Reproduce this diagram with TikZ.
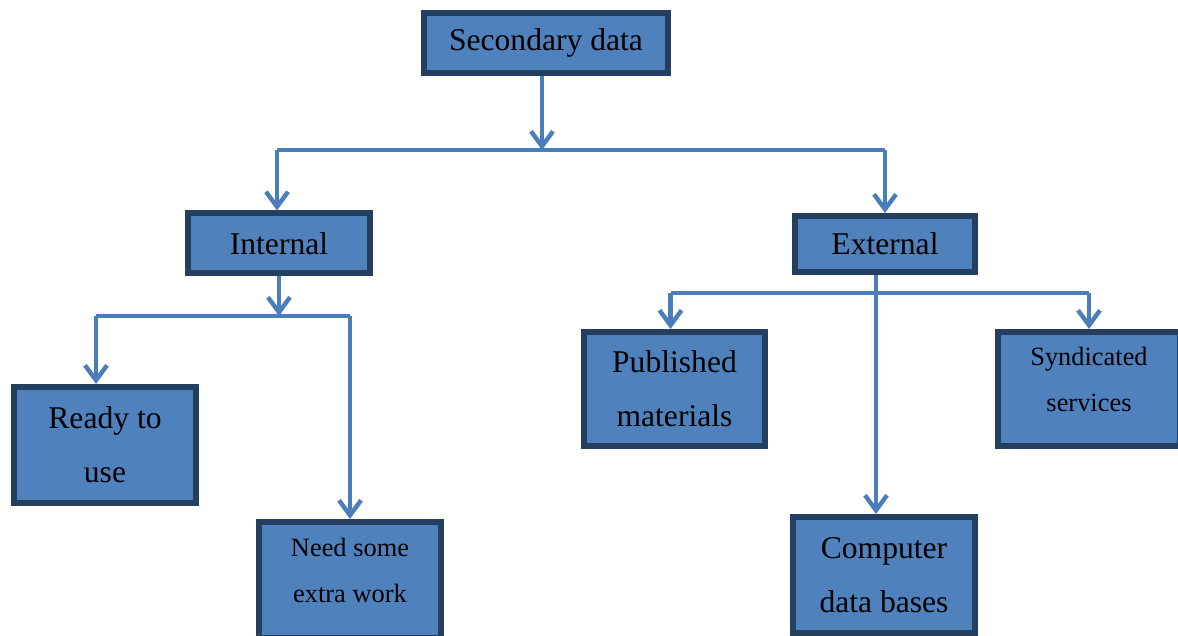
\documentclass[tikz,border=0pt]{standalone}
\usepackage{fontspec}
\setmainfont{Liberation Serif}
\usetikzlibrary{arrows.meta}

\definecolor{boxfill}{HTML}{4F81BD}
\definecolor{boxline}{HTML}{243F60}
\definecolor{linkblue}{HTML}{4A7EBB}

\begin{document}
\begin{tikzpicture}[x=0.5pt, y=-0.5pt,
	box/.style={draw=boxline, fill=boxfill, line width=3pt, align=center, inner sep=0pt,
		font=\fontsize{15.8}{27}\selectfont},
	smallbox/.style={box, text depth=10pt, font=\fontsize{13.2}{23}\selectfont},
	link/.style={draw=linkblue, line width=2.2pt},
	>={Straight Barb[length=7.5pt, width=11pt]}]
			\useasboundingbox (0,0) rectangle (1178,636);
			
			\node[box, minimum width=122pt, minimum height=30pt] (sec) at (546,43) {Secondary data};
			\node[box, minimum width=91pt, minimum height=30pt] (int) at (279,243.5) {Internal};
			\node[box, minimum width=90pt, minimum height=28pt] (ext) at (885,244) {External};
			
			\node[box, minimum width=91pt, minimum height=58pt] (ready) at (105,445) {Ready to\\use};
			\node[smallbox, minimum width=91pt, minimum height=58pt] (need) at (350,580) {Need some\\extra work};
			
			\node[box, minimum width=90.5pt, minimum height=57pt] (pub) at (674.5,389) {Published\\materials};
			\node[smallbox, minimum width=91pt, minimum height=57pt] (syn) at (1089,389) {Syndicated\\services};
			\node[box, minimum width=91pt, minimum height=58pt] (cdb) at (884,575) {Computer\\data bases};
			
			\draw[link, ->] ([xshift=-2pt]sec.south) -- ([xshift=-2pt]sec.south |- 0,150);
			\draw[link] ([xshift=-1pt]int.north |- 0,150) -- (ext.north |- 0,150);
			\draw[link, ->] ([xshift=-1pt]int.north |- 0,150) -- ([xshift=-1pt]int.north);
			\draw[link, ->] (ext.north |- 0,150) -- (ext.north);
			
			\draw[link, ->] (int.south) -- (int.south |- 0,316);
			\draw[link] ([xshift=-4.5pt]ready.north |- 0,316) -- (need.north |- 0,316);
			\draw[link, ->] ([xshift=-4.5pt]ready.north |- 0,316) -- ([xshift=-4.5pt]ready.north);
			\draw[link, ->] (need.north |- 0,316) -- (need.north);
			
			\draw[link, ->] ([xshift=-4.5pt]ext.south) -- ([xshift=-4pt]cdb.north);
			\draw[link] ([xshift=-2pt]pub.north |- 0,293) -- (syn.north |- 0,293);
			\draw[link, ->] ([xshift=-2pt]pub.north |- 0,293) -- ([xshift=-2pt]pub.north);
			\draw[link, ->] (syn.north |- 0,293) -- (syn.north);
			
		\end{tikzpicture}
\end{document}
